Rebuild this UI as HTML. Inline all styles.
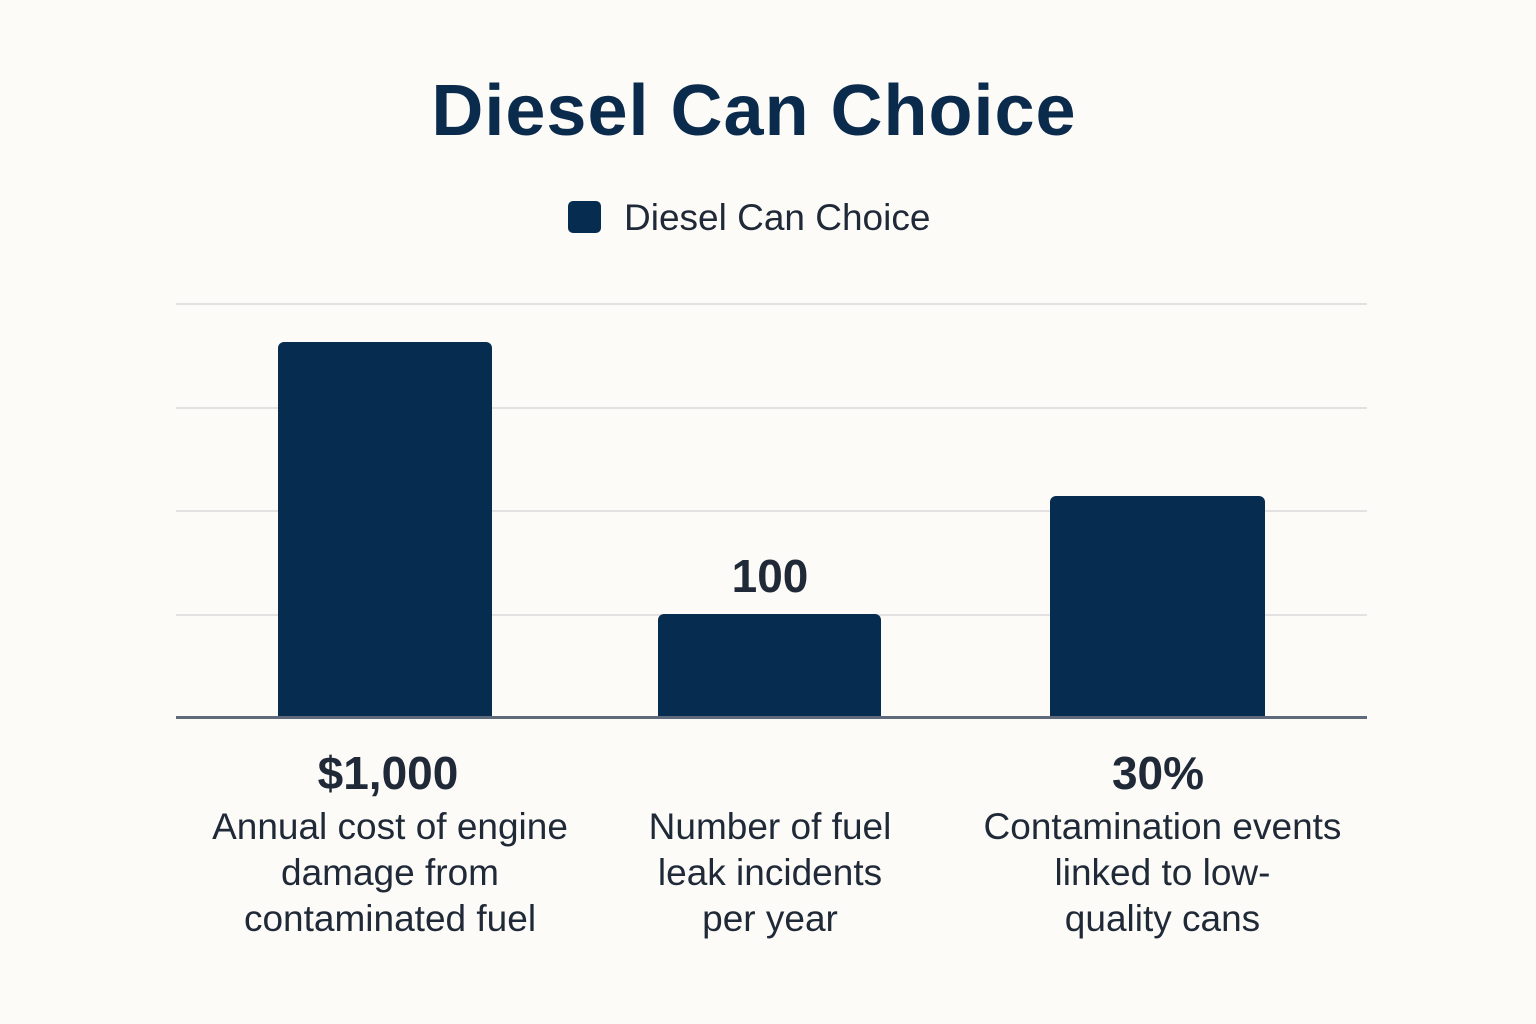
<!DOCTYPE html>
<html><head><style>
body{margin:0;width:1536px;height:1024px;background:#fcfbf7;font-family:"Liberation Sans",sans-serif;position:relative;overflow:hidden}
.a{position:absolute}
.t{left:0;width:1508px;text-align:center;top:70px;font-size:72px;font-weight:bold;color:#0b2b4d;letter-spacing:1px}
.g{left:176px;width:1191px;height:2px;background:#e2e2e2}
.bar{background:#062c50;border-radius:6px 6px 0 0}
.c{text-align:center;color:#1f2937}
.v{font-size:46px;font-weight:bold;color:#1f2937}
.l{font-size:37px;line-height:46px}
</style></head><body>
<div class="a t">Diesel Can Choice</div>
<div class="a" style="left:568px;top:201px;width:33px;height:32px;background:#062c50;border-radius:5px"></div>
<div class="a" style="left:624px;top:197px;font-size:37px;color:#1f2937">Diesel Can Choice</div>
<div class="a g" style="top:303px"></div>
<div class="a g" style="top:407px"></div>
<div class="a g" style="top:510px"></div>
<div class="a g" style="top:614px"></div>
<div class="a bar" style="left:278px;width:214px;top:342px;height:376px"></div>
<div class="a bar" style="left:658px;width:223px;top:614px;height:104px"></div>
<div class="a bar" style="left:1050px;width:215px;top:496px;height:222px"></div>
<div class="a" style="left:176px;width:1191px;top:716px;height:3px;background:#5f6b7a"></div>
<div class="a c v" style="left:670px;width:200px;top:549px">100</div>
<div class="a c v" style="left:238px;width:300px;top:746px">$1,000</div>
<div class="a c v" style="left:1008px;width:300px;top:746px">30%</div>
<div class="a c l" style="left:170px;width:440px;top:804px">Annual cost of engine<br>damage from<br>contaminated fuel</div>
<div class="a c l" style="left:550px;width:440px;top:804px">Number of fuel<br>leak incidents<br>per year</div>
<div class="a c l" style="left:935px;width:455px;top:804px">Contamination events<br>linked to low-<br>quality cans</div>
</body></html>
